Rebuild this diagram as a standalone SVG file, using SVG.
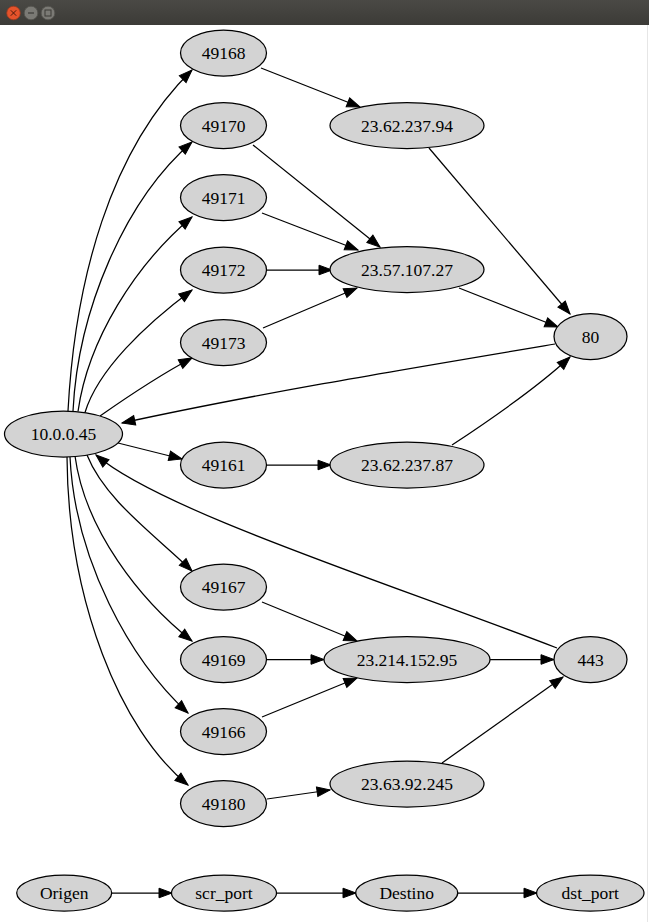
<svg xmlns="http://www.w3.org/2000/svg" width="649" height="922" viewBox="0 0 649 922">
<style>
.n ellipse{fill:#d3d3d3;stroke:#000;stroke-width:1.25}
.n text{font-family:"Liberation Serif","DejaVu Serif",serif;font-size:17.5px;text-anchor:middle;fill:#000}
#edges path{fill:none;stroke:#000;stroke-width:1.25;marker-end:url(#ah)}
</style>
<defs>
<marker id="ah" markerUnits="userSpaceOnUse" markerWidth="16" markerHeight="12" refX="14" refY="6" orient="auto">
<path d="M1,1.2 L14,6 L1,10.8z" fill="#000" stroke="#000" stroke-width="1"/>
</marker>
<linearGradient id="tb" x1="0" y1="0" x2="0" y2="1">
<stop offset="0" stop-color="#4a4945"/>
<stop offset="1" stop-color="#3c3b37"/>
</linearGradient>
</defs>
<rect x="0" y="0" width="649" height="922" fill="#fff"/>
<g id="titlebar">
<rect x="0" y="0" width="649" height="25" fill="url(#tb)"/>
<circle cx="13.5" cy="13" r="6.8" fill="#e5532b" stroke="#9a3a1f" stroke-width="0.8"/>
<path d="M10.8,10.3 L16.2,15.7 M16.2,10.3 L10.8,15.7" stroke="#4a1a0c" stroke-width="1"/>
<circle cx="31" cy="13" r="6.8" fill="#7b7a75" stroke="#55544f" stroke-width="0.8"/>
<path d="M28,13 L34,13" stroke="#3c3b37" stroke-width="1.2"/>
<circle cx="48" cy="13" r="6.8" fill="#7b7a75" stroke="#55544f" stroke-width="0.8"/>
<rect x="45" y="10" width="6" height="6" fill="none" stroke="#3c3b37" stroke-width="1"/>
</g>
<line x1="647.5" y1="25" x2="647.5" y2="922" stroke="#e6e6e6" stroke-width="1"/>
<g id="edges">
<path d="M68,411 C75,280 110,150 192,70"/>
<path d="M73,411 C78,310 125,200 192,142"/>
<path d="M78,411.5 C88,340 135,265 192,217"/>
<path d="M85,412.5 C98,370 145,325 192,290"/>
<path d="M100,416 C130,395 160,375 192,358"/>
<path d="M118,443 L182,459"/>
<path d="M87,455 C105,500 155,535 192,571"/>
<path d="M75,456 C85,530 140,600 192,641"/>
<path d="M70,457 C75,560 130,660 188,713"/>
<path d="M67,457 C68,600 120,730 188,785"/>
<path d="M261,68 L360,107"/>
<path d="M253,145 L380,247"/>
<path d="M262,213 L358,250"/>
<path d="M267,270 L332,270"/>
<path d="M263,328 L357,288"/>
<path d="M267,465 L331,465"/>
<path d="M262,602 L357,641"/>
<path d="M267,659.5 L324,659.5"/>
<path d="M262,717 L357,678"/>
<path d="M267,799 L330,790"/>
<path d="M429,148 L570,314"/>
<path d="M459,288 L558,327"/>
<path d="M452,445 C490,420 540,385 570,357"/>
<path d="M489,659.5 L554,659.5"/>
<path d="M442,763 L563,677"/>
<path d="M555,344 C400,370 250,395 122,423"/>
<path d="M557,648 C380,580 160,510 96,455"/>
<path d="M112,893 L172,893"/>
<path d="M277,893 L356,893"/>
<path d="M458,893 L537,893"/>
</g>
<g id="n_10_0_0_45" class="n"><ellipse cx="63.5" cy="434" rx="59" ry="23"/><text x="63.5" y="440" font-family="Liberation Serif, serif">10.0.0.45</text></g>
<g id="n_49168" class="n"><ellipse cx="223.5" cy="53" rx="43" ry="23"/><text x="223.5" y="59">49168</text></g>
<g id="n_49170" class="n"><ellipse cx="223.5" cy="125.5" rx="43" ry="23"/><text x="223.5" y="131.5">49170</text></g>
<g id="n_49171" class="n"><ellipse cx="223.5" cy="197.5" rx="43" ry="23"/><text x="223.5" y="203.5">49171</text></g>
<g id="n_49172" class="n"><ellipse cx="223.5" cy="270" rx="43" ry="23"/><text x="223.5" y="276">49172</text></g>
<g id="n_49173" class="n"><ellipse cx="223.5" cy="342.5" rx="43" ry="23"/><text x="223.5" y="348.5">49173</text></g>
<g id="n_49161" class="n"><ellipse cx="223.5" cy="465" rx="43" ry="23"/><text x="223.5" y="471">49161</text></g>
<g id="n_49167" class="n"><ellipse cx="223.5" cy="587" rx="43" ry="23"/><text x="223.5" y="593">49167</text></g>
<g id="n_49169" class="n"><ellipse cx="223.5" cy="659.5" rx="43" ry="23"/><text x="223.5" y="665.5">49169</text></g>
<g id="n_49166" class="n"><ellipse cx="223.5" cy="731.5" rx="43" ry="23"/><text x="223.5" y="737.5">49166</text></g>
<g id="n_49180" class="n"><ellipse cx="223.5" cy="803.5" rx="43" ry="23"/><text x="223.5" y="809.5">49180</text></g>
<g id="n_23_62_237_94" class="n"><ellipse cx="407" cy="125.5" rx="77" ry="23"/><text x="407" y="131.5">23.62.237.94</text></g>
<g id="n_23_57_107_27" class="n"><ellipse cx="407" cy="269.5" rx="77" ry="23"/><text x="407" y="275.5">23.57.107.27</text></g>
<g id="n_23_62_237_87" class="n"><ellipse cx="407" cy="465" rx="77" ry="23"/><text x="407" y="471">23.62.237.87</text></g>
<g id="n_23_214_152_95" class="n"><ellipse cx="407" cy="659.5" rx="83" ry="23"/><text x="407" y="665.5">23.214.152.95</text></g>
<g id="n_23_63_92_245" class="n"><ellipse cx="407" cy="784" rx="77" ry="23"/><text x="407" y="790">23.63.92.245</text></g>
<g id="n_80" class="n"><ellipse cx="590.5" cy="336.5" rx="36.5" ry="23"/><text x="590.5" y="342.5">80</text></g>
<g id="n_443" class="n"><ellipse cx="590.5" cy="659.5" rx="36.5" ry="23"/><text x="590.5" y="665.5">443</text></g>
<g id="n_origen" class="n"><ellipse cx="64.2" cy="893" rx="47.5" ry="18"/><text x="64.2" y="899">Origen</text></g>
<g id="n_scr_port" class="n"><ellipse cx="224" cy="893" rx="52.5" ry="18"/><text x="224" y="899">scr_port</text></g>
<g id="n_destino" class="n"><ellipse cx="406.7" cy="893" rx="51" ry="18"/><text x="406.7" y="899">Destino</text></g>
<g id="n_dst_port" class="n"><ellipse cx="590.3" cy="893" rx="53.7" ry="18"/><text x="590.3" y="899">dst_port</text></g>
</svg>
